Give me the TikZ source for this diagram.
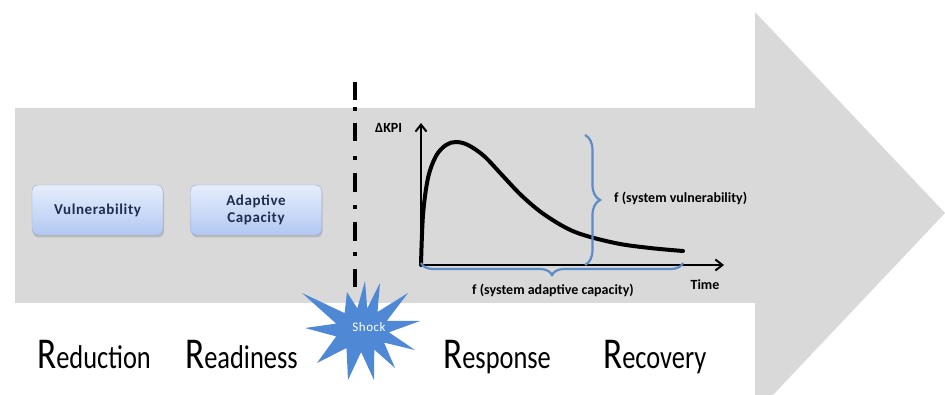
\documentclass[tikz,border=0pt]{standalone}
\usepackage{fontspec}
\setmainfont{Carlito}
\newfontfamily\spacedfont[LetterSpace=4]{Carlito}
\usetikzlibrary{shadows,decorations.pathreplacing,arrows.meta}
\definecolor{arrowgray}{HTML}{D9D9D9}
\definecolor{boxtop}{HTML}{E6EEFC}
\definecolor{boxbot}{HTML}{B2C8F2}
\definecolor{boxtext}{HTML}{1F2D4F}
\definecolor{braceblue}{HTML}{5B8CC8}
\definecolor{shockblue}{HTML}{4F88D4}
\tikzset{
  phasebox/.style={rounded corners=6pt, top color=boxtop, bottom color=boxbot,
    draw=boxbot!85!black, line width=0.4pt, minimum width=131pt, minimum height=50pt,
    align=center, text=boxtext, font=\spacedfont\fontsize{15}{17}\selectfont\bfseries,
    drop shadow={opacity=0.35, shadow xshift=1pt, shadow yshift=-2.5pt}},
  phaselabel/.style={font=\fontsize{36}{36}\selectfont, inner sep=0pt},
  chartlabel/.style={font=\fontsize{14}{16}\selectfont\bfseries, inner sep=0pt},
  bracestyle/.style={draw=braceblue, line width=2.2pt, decorate},
  axisline/.style={line width=2pt, -{Straight Barb[length=7pt,width=11pt,line width=2pt]}},
  shockline/.style={line width=3.2pt, line cap=butt},
}
\newcommand{\phaseword}[2]{\scalebox{0.8}[1]{\fontsize{44}{44}\selectfont #1\fontsize{33}{33}\selectfont #2}}
\begin{document}
\begin{tikzpicture}[x=1pt,y=-1pt]
\useasboundingbox (0,0) rectangle (945,395);
% big arrow
\fill[arrowgray] (15,108) -- (755,108) -- (755,12) -- (945,213) -- (755,414) -- (755,303) -- (15,303) -- cycle;
% shock line (dash-dot)
\foreach \a/\b in {82/100, 123/141, 173/192, 222/241, 269/287}
  \draw[shockline] (355,\a) -- (355,\b);
\foreach \d in {109, 158, 207, 254}
  \draw[shockline] (355,\d-1.6) -- (355,\d+1.6);
% boxes
\node[phasebox] (vul) at (97.5,210) {Vulnerability};
\node[phasebox] (adc) at (256,210) {Adaptive\\Capacity};
% chart
\coordinate (O) at (421,265);
\coordinate (ytop) at (421,123);
\coordinate (xend) at (724,265);
\draw[axisline] ([yshift=-1pt]O) -- (ytop);
\draw[axisline] ([xshift=-1pt]O) -- (xend);
\draw[line width=4pt, line cap=round] plot[smooth, tension=0.55] coordinates {(421,265) (423,215) (428,178) (436,156) (446,145) (456,142) (468,145) (484,156) (502,175) (522,196) (545,215) (575,232) (615,243) (650,248) (683,251)};
\coordinate (vbt) at (585,135);
\coordinate (vbb) at (585,265);
\draw[bracestyle, decoration={brace, amplitude=15pt}] (vbt) -- (vbb);
\coordinate (hbr) at (683,263);
\coordinate (hbl) at (421,263);
\draw[bracestyle, decoration={brace, amplitude=12pt}] (hbr) -- (hbl);
\node[chartlabel, anchor=west] (fvul) at (614,198) {f (system vulnerability)};
\node[chartlabel] (fadc) at (553,290) {f (system adaptive capacity)};
\node[chartlabel] (time) at (705,285) {Time};
\node[chartlabel, anchor=west] (kpi) at (375,128) {ΔKPI};
% shock star
\fill[shockblue] (420,321) -- (388.9,332.3) -- (415,350) -- (384.1,342.6) -- (395,368) -- (374.3,349.6) -- (374,380) -- (361.1,352) -- (348,380) -- (346.5,348) -- (317,363) -- (336.2,336.4) -- (305,328) -- (336.2,323.6) -- (302,293) -- (344.6,313.1) -- (347,292) -- (357.3,308.3) -- (365,281) -- (367.2,308.4) -- (380,283) -- (377.5,312) -- (408,293) -- (386.7,321) -- cycle;
\node[font=\spacedfont\fontsize{13}{15}\selectfont, text=white, inner sep=0pt] (shock) at (369,327) {Shock};
% phase labels
\node[phaselabel, anchor=base west] (red) at (37,368) {\phaseword{R}{eduction}};
\node[phaselabel, anchor=base west] (rea) at (185,368) {\phaseword{R}{eadiness}};
\node[phaselabel, anchor=base west] (res) at (443,368) {\phaseword{R}{esponse}};
\node[phaselabel, anchor=base west] (rec) at (603,368) {\phaseword{R}{ecovery}};
\end{tikzpicture}
\end{document}
